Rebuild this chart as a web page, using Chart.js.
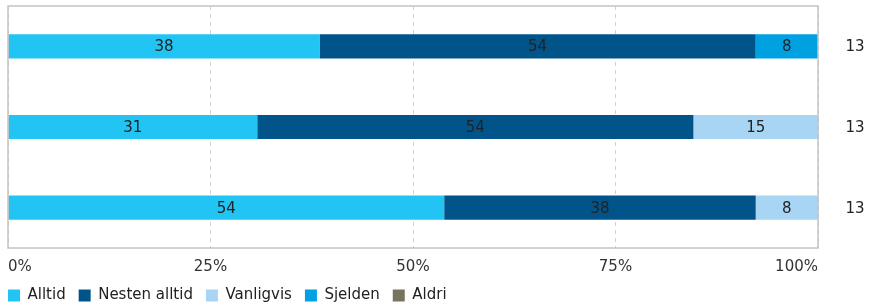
<!DOCTYPE html>
<html>
<head>
<meta charset="utf-8">
<script src="https://cdn.jsdelivr.net/npm/chart.js@4.4.1/dist/chart.umd.min.js"></script>
<style>
  html, body { margin: 0; padding: 0; background: #fff; }
  #wrap { width: 879px; height: 307px; }
</style>
</head>
<body>
<div id="wrap"><canvas id="chart"></canvas></div>
<script>
// rader (ikke vist i bildet) og antall svar til høyre
const categories = ["Rad 1", "Rad 2", "Rad 3"];
const answers = [13, 13, 13];

// prosent per svaralternativ
const alltid = [38.46, 30.77, 53.85];
const nestenAlltid = [53.85, 53.85, 38.46];
const vanligvis = [null, 15.38, 7.69];
const sjelden = [7.69, null, null];
const aldri = [null, null, null];

const xTicks = [0, 25, 50, 75, 100];

const textColor = "#222";
const font = { family: "DejaVu Sans", size: 15 };

// tall inni segmentene + antall til høyre + ramme rundt plottet
const barLabels = {
  id: "barLabels",
  afterLayout(chart) {
    // legenden skal starte i flukt med plottet
    chart.legend.left = chart.chartArea.left - chart.legend.options.labels.padding;
  },
  afterDatasetsDraw(chart) {
    const { ctx, chartArea } = chart;
    ctx.save();
    ctx.font = font.size + "px " + font.family;
    ctx.fillStyle = textColor;
    ctx.textAlign = "center";
    ctx.textBaseline = "middle";
    chart.data.datasets.forEach((ds, i) => {
      const meta = chart.getDatasetMeta(i);
      meta.data.forEach((bar, j) => {
        const v = ds.data[j];
        if (v == null || v === 0) return;
        const { x, y, base } = bar.getProps(["x", "y", "base"], true);
        ctx.fillText(Math.round(v), (x + base) / 2, y + 1);
      });
    });
    const yScale = chart.scales.y;
    answers.forEach((n, j) => {
      ctx.fillText(n, chartArea.right + 37, yScale.getPixelForValue(j) + 1);
    });
    ctx.strokeStyle = "#c4c4c4";
    ctx.lineWidth = 1.5;
    ctx.strokeRect(chartArea.left, chartArea.top, chartArea.right - chartArea.left, chartArea.bottom - chartArea.top);
    ctx.restore();
  },
};

const ds = (label, data, color) => ({
  label,
  data,
  backgroundColor: color,
  borderWidth: 0,
  categoryPercentage: 1,
  barPercentage: 0.3,
});

new Chart(document.getElementById("chart"), {
  type: "bar",
  plugins: [barLabels],
  data: {
    labels: categories,
    datasets: [
      ds("Alltid", alltid, "#22c4f4"),
      ds("Nesten alltid", nestenAlltid, "#00548a"),
      ds("Vanligvis", vanligvis, "#a9d5f5"),
      ds("Sjelden", sjelden, "#00a1e1"),
      ds("Aldri", aldri, "#77755f"),
    ],
  },
  options: {
    indexAxis: "y",
    responsive: true,
    maintainAspectRatio: false,
    animation: false,
    layout: { padding: { left: 8, right: 61, top: 6, bottom: -6 } },
    plugins: {
      tooltip: { enabled: false },
      legend: {
        position: "bottom",
        align: "start",
        labels: {
          boxWidth: 12,
          boxHeight: 12,
          padding: 13,
          color: textColor,
          font,
        },
      },
    },
    scales: {
      x: {
        stacked: true,
        min: 0,
        max: 100,
        afterBuildTicks(scale) {
          scale.ticks = xTicks.map((v) => ({ value: v }));
        },
        afterFit(scale) {
          scale.height = 27;
          scale.paddingLeft = 0;
          scale.paddingRight = 0;
        },
        border: { display: false, dash: [4, 4] },
        grid: {
          color: "#d0d0d0",
          lineWidth: 1,
          drawTicks: false,
        },
        ticks: {
          align: "inner",
          padding: 10,
          color: "#333",
          font,
          callback: (v) => v + "%",
        },
      },
      y: {
        stacked: true,
        display: false,
      },
    },
  },
});
</script>
</body>
</html>
